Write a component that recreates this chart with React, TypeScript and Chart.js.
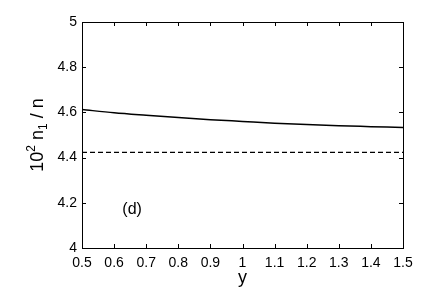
import React, { useEffect, useRef } from 'react';
import { Chart, registerables } from 'chart.js';

Chart.register(...registerables);

const xValues = [0.5, 0.6, 0.7, 0.8, 0.9, 1.0, 1.1, 1.2, 1.3, 1.4, 1.5];
const solidValues = [4.613, 4.598, 4.587, 4.577, 4.568, 4.560, 4.552, 4.546, 4.541, 4.537, 4.533];
const dashedValues = [4.423, 4.423, 4.423, 4.423, 4.423, 4.423, 4.423, 4.423, 4.423, 4.423, 4.423];
const xTicks = [0.5, 0.6, 0.7, 0.8, 0.9, 1, 1.1, 1.2, 1.3, 1.4, 1.5];
const yTicks = [4, 4.2, 4.4, 4.6, 4.8, 5];
const panelLabel = '(d)';
const panelPos = { x: 0.656, y: 4.168 };

const FONT = '"Liberation Sans", Arial, Helvetica, sans-serif';

const framePlugin = {
  id: 'frame',
  afterDraw(chart: any) {
    const { ctx, chartArea } = chart;
    const { left, right, top, bottom } = chartArea;
    const xs = chart.scales.x;
    const ys = chart.scales.y;
    ctx.save();
    ctx.strokeStyle = '#000';
    ctx.lineWidth = 1;
    const tl = 4;
    ctx.beginPath();
    for (const t of xTicks) {
      const px = Math.round(xs.getPixelForValue(t)) + 0.5;
      ctx.moveTo(px, bottom);
      ctx.lineTo(px, bottom - tl);
      ctx.moveTo(px, top);
      ctx.lineTo(px, top + tl);
    }
    for (const t of yTicks) {
      const py = Math.round(ys.getPixelForValue(t)) + 0.5;
      ctx.moveTo(left, py);
      ctx.lineTo(left + tl, py);
      ctx.moveTo(right, py);
      ctx.lineTo(right - tl, py);
    }
    ctx.stroke();
    ctx.strokeRect(Math.round(left) + 0.5, Math.round(top) + 0.5, Math.round(right - left), Math.round(bottom - top));

    // panel label
    ctx.fillStyle = '#000';
    ctx.font = `16px ${FONT}`;
    ctx.textAlign = 'center';
    ctx.textBaseline = 'middle';
    ctx.fillText(panelLabel, xs.getPixelForValue(panelPos.x), ys.getPixelForValue(panelPos.y));

    // y title: 10^2 n_1 / n
    const cx = 37;
    const cy = (top + bottom) / 2;
    ctx.translate(cx, cy);
    ctx.rotate(-Math.PI / 2);
    ctx.textAlign = 'left';
    ctx.textBaseline = 'alphabetic';
    const big = `18px ${FONT}`;
    const small = `12px ${FONT}`;
    const parts: { t: string; f: string; dy: number }[] = [
      { t: '10', f: big, dy: 0 },
      { t: '2', f: small, dy: -8 },
      { t: ' n', f: big, dy: 0 },
      { t: '1', f: small, dy: 4 },
      { t: ' / n', f: big, dy: 0 },
    ];
    let total = 0;
    for (const p of parts) {
      ctx.font = p.f;
      total += ctx.measureText(p.t).width;
    }
    let x = -total / 2;
    for (const p of parts) {
      ctx.font = p.f;
      ctx.fillText(p.t, x, 6 + p.dy);
      x += ctx.measureText(p.t).width;
    }
    ctx.restore();
  },
};

export default function App() {
  const ref = useRef<HTMLCanvasElement | null>(null);

  useEffect(() => {
    document.body.style.margin = '0';
    const canvas = ref.current;
    if (!canvas) return;
    const chart = new Chart(canvas, {
      type: 'line',
      data: {
        datasets: [
          {
            label: 'solid',
            data: xValues.map((x, i) => ({ x, y: solidValues[i] })),
            borderColor: '#000',
            borderWidth: 1.5,
            pointRadius: 0,
            tension: 0.4,
            cubicInterpolationMode: 'monotone',
            fill: false,
          },
          {
            label: 'dashed',
            data: xValues.map((x, i) => ({ x, y: dashedValues[i] })),
            borderColor: '#000',
            borderWidth: 1.4,
            borderDash: [5, 3],
            pointRadius: 0,
            fill: false,
          },
        ],
      },
      options: {
        animation: false,
        responsive: false,
        maintainAspectRatio: false,
        layout: { padding: { left: 0, top: 22, right: 33, bottom: 0 } },
        plugins: {
          legend: { display: false },
          tooltip: { enabled: false },
        },
        scales: {
          x: {
            type: 'linear',
            min: 0.5,
            max: 1.5,
            grid: { display: false, drawTicks: false },
            border: { display: false },
            afterBuildTicks: (axis: any) => {
              axis.ticks = xTicks.map((v) => ({ value: v }));
            },
            afterFit: (axis: any) => {
              axis.height = 43;
            },
            ticks: {
              color: '#000',
              padding: 7,
              maxRotation: 0,
              autoSkip: false,
              font: { family: FONT, size: 14 },
              callback: (v: any) => String(Math.round(Number(v) * 10) / 10),
            },
            title: {
              display: true,
              text: 'y',
              color: '#000',
              font: { family: FONT, size: 18 },
              padding: { top: 0, bottom: 2 },
            },
          },
          y: {
            type: 'linear',
            min: 4,
            max: 5,
            grid: { display: false, drawTicks: false },
            border: { display: false },
            afterBuildTicks: (axis: any) => {
              axis.ticks = yTicks.map((v) => ({ value: v }));
            },
            afterFit: (axis: any) => {
              axis.width = 82;
            },
            ticks: {
              color: '#000',
              padding: 5,
              autoSkip: false,
              font: { family: FONT, size: 14 },
              callback: (v: any) => String(Math.round(Number(v) * 10) / 10),
            },
          },
        },
      },
      plugins: [framePlugin],
    });
    return () => chart.destroy();
  }, []);

  return <canvas ref={ref} width={436} height={291} style={{ display: 'block' }} />;
}
